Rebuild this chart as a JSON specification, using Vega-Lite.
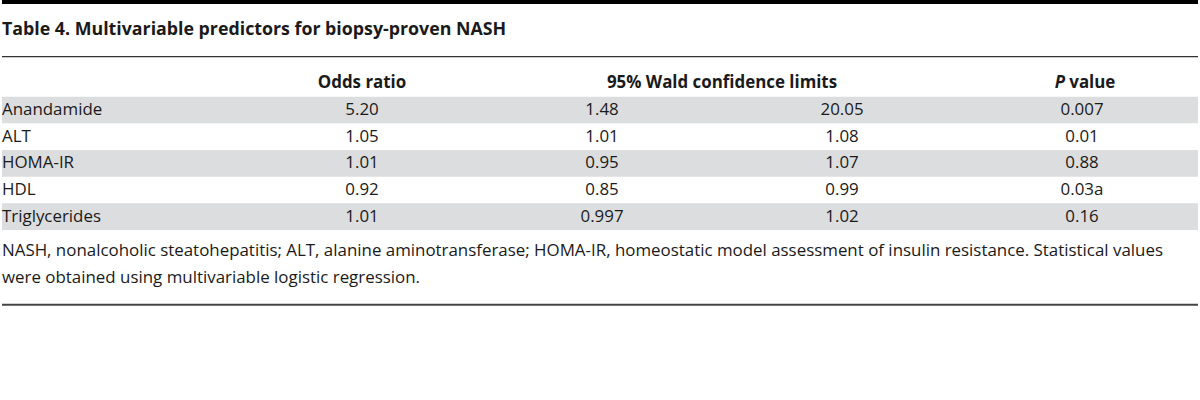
{
  "$schema": "https://vega.github.io/schema/vega-lite/v6.json",
  "width": 1200,
  "height": 400,
  "autosize": {"type": "fit", "contains": "padding"},
  "padding": 0,
  "background": "white",
  "config": {
    "view": {"stroke": null},
    "axis": {"disable": true},
    "text": {"font": "Open Sans", "fontSize": 16.9, "color": "#1a1a1a"}
  },
  "datasets": {
    "table": [
      {"line": "Anandamide", "odds": "5.20", "lo": "1.48", "hi": "20.05", "p": "0.007"},
      {"line": "ALT", "odds": "1.05", "lo": "1.01", "hi": "1.08", "p": "0.01"},
      {"line": "HOMA-IR", "odds": "1.01", "lo": "0.95", "hi": "1.07", "p": "0.88"},
      {"line": "HDL", "odds": "0.92", "lo": "0.85", "hi": "0.99", "p": "0.03a"},
      {"line": "Triglycerides", "odds": "1.01", "lo": "0.997", "hi": "1.02", "p": "0.16"}
    ],
    "notes": [
      {"line": "title", "text": "Table 4. Multivariable predictors for biopsy-proven NASH"},
      {"line": "foot1", "text": "NASH, nonalcoholic steatohepatitis; ALT, alanine aminotransferase; HOMA-IR, homeostatic model assessment of insulin resistance. Statistical values"},
      {"line": "foot2", "text": "were obtained using multivariable logistic regression."}
    ],
    "heads": [
      {"line": "header", "col": "odds", "text": "Odds ratio"},
      {"line": "header", "col": "lo", "text": "95% Wald confidence limits"},
      {"line": "header", "col": "p", "text": "P"},
      {"line": "header", "col": "p", "text": "value"}
    ],
    "rules": [
      {"line": "top"},
      {"line": "rule1"},
      {"line": "rule2"}
    ]
  },
  "layer": [
    {
      "data": {"name": "table"},
      "transform": [{"filter": {"field": "line", "oneOf": ["Anandamide", "HOMA-IR", "Triglycerides"]}}],
      "mark": {"type": "rect", "color": "#dcdddf"},
      "encoding": {
        "y": {
          "field": "line", "type": "nominal",
          "scale": {
            "type": "band",
            "domain": ["top", "title", "rule1", "header", "Anandamide", "ALT", "HOMA-IR", "HDL", "Triglycerides", "foot1", "foot2", "rule2"],
            "range": [-10, 310],
            "paddingInner": 0,
            "paddingOuter": 0
          }
        }
      }
    },
    {
      "data": {"name": "rules"},
      "transform": [{"filter": "datum.line === 'top'"}],
      "mark": {"type": "rule", "color": "#000000", "strokeWidth": 4},
      "encoding": {"y": {"field": "line", "type": "nominal", "bandPosition": 0.45}}
    },
    {
      "data": {"name": "rules"},
      "transform": [{"filter": "datum.line === 'rule1'"}],
      "mark": {"type": "rule", "color": "#333333", "strokeWidth": 1.2},
      "encoding": {"y": {"field": "line", "type": "nominal", "bandPosition": 0.5}}
    },
    {
      "data": {"name": "rules"},
      "transform": [{"filter": "datum.line === 'rule2'"}],
      "mark": {"type": "rule", "color": "#444444", "strokeWidth": 2},
      "encoding": {"y": {"field": "line", "type": "nominal", "bandPosition": 0.8}}
    },
    {
      "data": {"name": "notes"},
      "transform": [{"filter": "datum.line === 'title'"}],
      "mark": {"type": "text", "align": "left", "baseline": "middle", "fontWeight": "bold", "fontSize": 17.8},
      "encoding": {
        "x": {"datum": "label", "type": "nominal", "bandPosition": 0,
          "scale": {"type": "band", "domain": ["label", "odds", "lo", "hi", "p"], "range": [0, 1200], "paddingInner": 0, "paddingOuter": 0}},
        "y": {"field": "line", "type": "nominal", "bandPosition": 0.5},
        "text": {"field": "text"}
      }
    },
    {
      "data": {"name": "notes"},
      "transform": [{"filter": "datum.line !== 'title'"}],
      "mark": {"type": "text", "align": "left", "baseline": "middle"},
      "encoding": {
        "x": {"datum": "label", "type": "nominal", "bandPosition": 0},
        "y": {"field": "line", "type": "nominal", "bandPosition": 0.8},
        "text": {"field": "text"}
      }
    },
    {
      "data": {"name": "table"},
      "mark": {"type": "text", "align": "left", "baseline": "middle"},
      "encoding": {
        "x": {"datum": "label", "type": "nominal", "bandPosition": 0},
        "y": {"field": "line", "type": "nominal", "bandPosition": 0.5},
        "text": {"field": "line"}
      }
    },
    {
      "data": {"name": "table"},
      "transform": [{"fold": ["odds", "lo", "hi", "p"], "as": ["col", "val"]}],
      "mark": {"type": "text", "align": "center", "baseline": "middle"},
      "encoding": {
        "x": {"field": "col", "type": "nominal", "bandPosition": 0.5},
        "y": {"field": "line", "type": "nominal", "bandPosition": 0.5},
        "text": {"field": "val"}
      }
    },
    {
      "data": {"name": "heads"},
      "transform": [{"filter": "datum.col === 'odds'"}],
      "mark": {"type": "text", "align": "center", "baseline": "middle", "fontWeight": "bold"},
      "encoding": {
        "x": {"field": "col", "type": "nominal", "bandPosition": 0.5},
        "y": {"field": "line", "type": "nominal", "bandPosition": 0.5},
        "text": {"field": "text"}
      }
    },
    {
      "data": {"name": "heads"},
      "transform": [{"filter": "datum.col === 'lo'"}],
      "mark": {"type": "text", "align": "center", "baseline": "middle", "fontWeight": "bold"},
      "encoding": {
        "x": {"field": "col", "type": "nominal", "bandPosition": 1},
        "y": {"field": "line", "type": "nominal", "bandPosition": 0.5},
        "text": {"field": "text"}
      }
    },
    {
      "data": {"name": "heads"},
      "transform": [{"filter": "datum.text === 'P'"}],
      "mark": {"type": "text", "align": "right", "baseline": "middle", "fontWeight": "bold", "fontStyle": "italic"},
      "encoding": {
        "x": {"field": "col", "type": "nominal", "bandPosition": 0.429},
        "y": {"field": "line", "type": "nominal", "bandPosition": 0.5},
        "text": {"field": "text"}
      }
    },
    {
      "data": {"name": "heads"},
      "transform": [{"filter": "datum.text === 'value'"}],
      "mark": {"type": "text", "align": "left", "baseline": "middle", "fontWeight": "bold"},
      "encoding": {
        "x": {"field": "col", "type": "nominal", "bandPosition": 0.447},
        "y": {"field": "line", "type": "nominal", "bandPosition": 0.5},
        "text": {"field": "text"}
      }
    }
  ]
}
